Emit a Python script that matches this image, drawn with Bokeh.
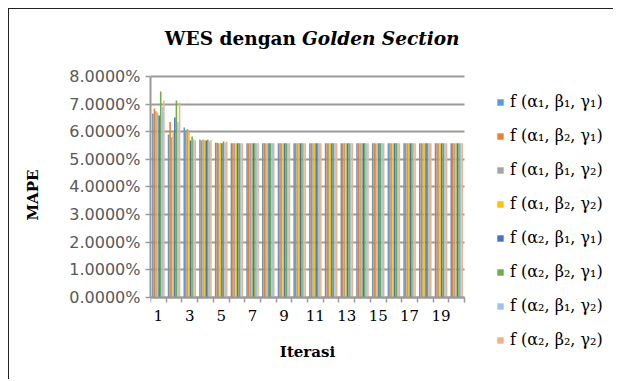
from bokeh.plotting import figure
from bokeh.models import (ColumnDataSource, Range1d, FixedTicker, PrintfTickFormatter,
                          Legend, LegendItem, Label, Grid)
from bokeh.transform import dodge
from bokeh.embed import file_html
from bokeh.resources import INLINE

iterations = list(range(1, 21))
tick_labels = [1, 3, 5, 7, 9, 11, 13, 15, 17, 19]
y_ticks = [0, 1, 2, 3, 4, 5, 6, 7, 8]

series_labels = [
    "f (α₁, β₁, γ₁)", "f (α₁, β₂, γ₁)", "f (α₁, β₁, γ₂)", "f (α₁, β₂, γ₂)",
    "f (α₂, β₁, γ₁)", "f (α₂, β₂, γ₁)", "f (α₂, β₁, γ₂)", "f (α₂, β₂, γ₂)",
]
colors = ["#5B9BD5", "#ED7D31", "#A5A5A5", "#FFC000",
          "#4472C4", "#70AD47", "#9DC3E6", "#F4B183"]

tail = [5.58] * 15
s1 = [6.66, 5.90, 6.15, 5.72, 5.60] + tail
s2 = [6.84, 6.35, 6.05, 5.68, 5.60] + tail
s3 = [6.74, 5.80, 6.10, 5.72, 5.58] + tail
s4 = [6.70, 6.00, 5.98, 5.70, 5.60] + tail
s5 = [6.59, 6.52, 5.68, 5.68, 5.58] + tail
s6 = [7.46, 7.13, 5.83, 5.72, 5.65] + tail
s7 = [6.90, 6.35, 5.72, 5.66, 5.60] + tail
s8 = [7.13, 7.06, 5.68, 5.70, 5.65] + tail
series = [s1, s2, s3, s4, s5, s6, s7, s8]

data = {"x": iterations}
for i, s in enumerate(series):
    data[f"s{i+1}"] = s
source = ColumnDataSource(data)

x_lo = iterations[0] - 0.5
x_hi = iterations[-1] + 0.5

# The frame covers the whole canvas right of the y axis, so that title and
# legend (drawn inside it) are not clipped; the x axis sits at y = 0.
p = figure(width=605, height=371, output_backend="svg", toolbar_location=None,
           x_range=Range1d(x_lo, 30.05), y_range=Range1d(-3.0045, 10.425),
           min_border_left=141, min_border_right=0, min_border_top=0,
           min_border_bottom=0)
p.styles = {"margin-left": "8px", "margin-top": "8px",
            "border-left": "1.5px solid #222", "border-top": "1.5px solid #222",
            "border-right": "none", "border-bottom": "none"}
p.outline_line_color = None
p.background_fill_color = "white"
p.border_fill_color = "white"

bw = 0.1
renderers = []
for i in range(8):
    off = (i - 3.5) * bw
    r = p.vbar(x=dodge("x", off), top=f"s{i+1}", width=bw, source=source,
               fill_color=colors[i], line_color=None)
    renderers.append(r)

grid_col = "#9A9A9A"
p.xgrid.grid_line_color = None
if "cross_bounds" in Grid.properties():
    p.ygrid.ticker = FixedTicker(ticks=y_ticks)
    p.ygrid.cross_bounds = (x_lo, x_hi)
    p.ygrid.grid_line_color = grid_col
    p.ygrid.grid_line_width = 2
    p.ygrid.level = "underlay"
else:
    p.ygrid.grid_line_color = None
    p.segment(x0=[x_lo] * len(y_ticks), x1=[x_hi] * len(y_ticks), y0=y_ticks,
              y1=y_ticks, line_color=grid_col, line_width=2, level="underlay")

p.yaxis.ticker = FixedTicker(ticks=y_ticks)
p.yaxis.bounds = (y_ticks[0], y_ticks[-1])
p.yaxis.formatter = PrintfTickFormatter(format="%.4f%%")
p.yaxis.axis_line_color = grid_col
p.yaxis.axis_line_width = 2
p.yaxis.major_tick_line_color = grid_col
p.yaxis.major_tick_line_width = 1.5
p.yaxis.major_tick_out = 5
p.yaxis.major_tick_in = 0
p.yaxis.minor_tick_line_color = None
p.yaxis.major_label_text_font = "DejaVu Sans"
p.yaxis.major_label_text_font_size = "16px"
p.yaxis.major_label_text_color = "#595959"
p.yaxis.major_label_standoff = 5
p.yaxis.axis_label = "MAPE"
p.yaxis.axis_label_text_font = "DejaVu Serif"
p.yaxis.axis_label_text_font_style = "bold"
p.yaxis.axis_label_text_font_size = "15px"
p.yaxis.axis_label_text_color = "black"
p.yaxis.axis_label_standoff = 24

p.xaxis.fixed_location = 0
p.xaxis.bounds = (x_lo, x_hi)
p.xaxis.ticker = FixedTicker(ticks=tick_labels,
                             minor_ticks=[x_lo + i for i in range(0, 21)])
p.xaxis.axis_line_color = grid_col
p.xaxis.axis_line_width = 2
p.xaxis.major_tick_line_color = None
p.xaxis.minor_tick_line_color = grid_col
p.xaxis.minor_tick_line_width = 1.5
p.xaxis.minor_tick_out = 5
p.xaxis.minor_tick_in = 0
p.xaxis.major_label_text_font = "DejaVu Serif"
p.xaxis.major_label_text_font_size = "15px"
p.xaxis.major_label_text_color = "black"
p.xaxis.major_label_standoff = 7
p.xaxis.axis_label = "Iterasi"
p.xaxis.axis_label_text_font = "DejaVu Serif"
p.xaxis.axis_label_text_font_style = "bold"
p.xaxis.axis_label_text_font_size = "15px"
p.xaxis.axis_label_text_color = "black"
p.xaxis.axis_label_standoff = 18

t1 = Label(x=9.96, y=9.39, text="WES dengan", text_align="right",
           text_baseline="middle", x_offset=-3, text_font="DejaVu Serif",
           text_font_style="bold", text_font_size="18.5px", text_color="black")
t2 = Label(x=9.96, y=9.39, text="Golden Section", text_align="left",
           text_baseline="middle", x_offset=3, text_font="DejaVu Serif",
           text_font_style="bold italic", text_font_size="18.5px", text_color="black")
p.add_layout(t1)
p.add_layout(t2)

items = [LegendItem(label=series_labels[i], renderers=[renderers[i]]) for i in range(8)]
legend = Legend(items=items, location=(346, 31), padding=0, margin=0,
                spacing=15, glyph_width=8, glyph_height=8, label_standoff=6,
                label_text_font="DejaVu Serif", label_text_font_size="16px",
                label_text_color="black", border_line_color=None,
                background_fill_alpha=0)
p.add_layout(legend)

open("out.html", "w").write(file_html(p, INLINE))
